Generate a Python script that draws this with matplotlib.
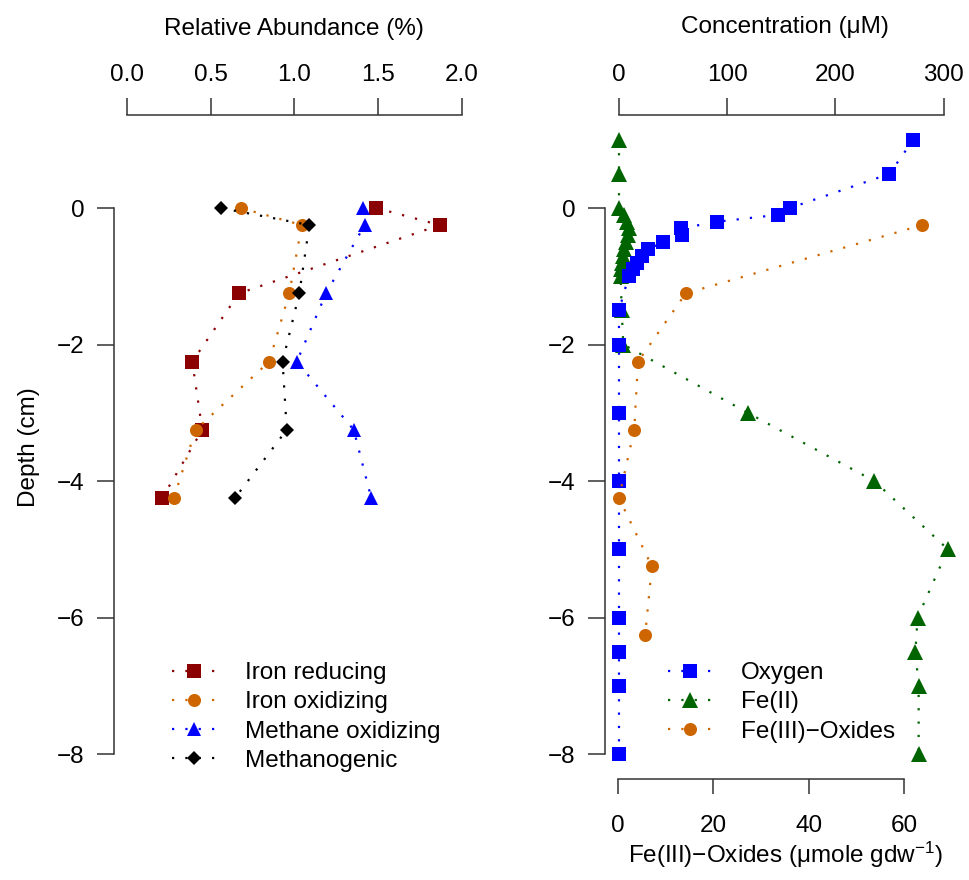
import matplotlib
matplotlib.use("Agg")
import matplotlib.pyplot as plt

plt.rcParams['font.family'] = ['Liberation Sans', 'DejaVu Sans']
plt.rcParams['mathtext.fontset'] = 'custom'
plt.rcParams['mathtext.rm'] = 'Liberation Sans'
plt.rcParams['mathtext.it'] = 'Liberation Sans:italic'
plt.rcParams['axes.unicode_minus'] = True

# ---------------- data ----------------
depth_bio = [0, -0.25, -1.25, -2.25, -3.25, -4.25]
iron_reducing = [1.49, 1.87, 0.67, 0.39, 0.45, 0.21]
iron_oxidizing = [0.68, 1.045, 0.97, 0.85, 0.41, 0.28]
methane_oxidizing = [1.41, 1.42, 1.19, 1.015, 1.355, 1.46]
methanogenic = [0.56, 1.09, 1.03, 0.93, 0.955, 0.645]

depth_o2 = [1.0, 0.5, 0.0, -0.1, -0.2, -0.3, -0.4, -0.5, -0.6, -0.7, -0.8,
            -0.9, -1.0, -1.5, -2, -3, -4, -5, -6, -6.5, -7, -8]
oxygen = [272, 250, 158, 147, 91, 57, 58, 41, 27, 21, 17,
          13, 9, 0, 0, 0, 0, 0, 0, 0, 0, 0]

depth_fe2 = [1.0, 0.5, 0.0, -0.1, -0.2, -0.3, -0.4, -0.5, -0.6, -0.7, -0.8,
             -0.9, -1.0, -1.5, -2, -3, -4, -5, -6, -6.5, -7, -8]
fe2 = [0, 0, 0, 5, 7.5, 9.5, 8.5, 6.5, 5, 4, 3,
       2, 1.5, 2.5, 4, 119, 236, 304, 276, 274, 277, 277]

depth_fe3 = [-0.25, -1.25, -2.25, -3.25, -4.25, -5.25, -6.25]
fe3_oxides = [63.7, 14.2, 4.2, 3.4, 0.2, 7.1, 5.7]

abund_ticks = [0.0, 0.5, 1.0, 1.5, 2.0]
abund_labels = ['0.0', '0.5', '1.0', '1.5', '2.0']
depth_ticks = [0, -2, -4, -6, -8]
depth_labels = ['0', '\u22122', '\u22124', '\u22126', '\u22128']
conc_ticks = [0, 100, 200, 300]
conc_labels = ['0', '100', '200', '300']
fe3_ticks = [0, 20, 40, 60]
fe3_labels = ['0', '20', '40', '60']

# ---------------- styles ----------------
W, H = 969, 880
FS = 17.5
AXC = '#333333'
DOT = (0, (1, 5))
LW = 1.6
C_RED = '#8B0000'
C_ORG = '#CD6600'
C_BLU = '#0000FF'
C_BLK = '#000000'
C_GRN = '#006400'

fig = plt.figure(figsize=(W / 100, H / 100), dpi=100)

y_top, y_bot = 115, 779
ylim = (-8.366, 1.363)

def px_axes(x0, x1):
    return [x0 / W, 1 - y_bot / H, (x1 - x0) / W, (y_bot - y_top) / H]

def style_common(ax):
    for s in ax.spines.values():
        s.set_visible(False)
    ax.tick_params(axis='both', direction='out', length=12, width=1.1,
                   color=AXC, labelsize=FS, pad=9)
    ax.patch.set_alpha(0)

def show_spine(ax, side, lo, hi):
    sp = ax.spines[side]
    sp.set_visible(True)
    sp.set_bounds(lo, hi)
    sp.set_color(AXC)
    sp.set_linewidth(1.1)

leg_kw = dict(frameon=False, fontsize=FS, handlelength=1.85,
              handletextpad=1.15, labelspacing=0.3, borderpad=0,
              borderaxespad=0, numpoints=1, loc='upper left')

# ---------------- left panel ----------------
axl = fig.add_axes(px_axes(113.6, 475))
style_common(axl)
axl.set_xlim(-0.08, 2.08)
axl.set_ylim(*ylim)
axl.xaxis.set_ticks_position('top')
axl.xaxis.set_label_position('top')
axl.set_xticks(abund_ticks)
axl.set_xticklabels(abund_labels)
axl.set_yticks(depth_ticks)
axl.set_yticklabels(depth_labels)
show_spine(axl, 'top', 0, 2)
show_spine(axl, 'left', -8, 0)
axl.set_xlabel('Relative Abundance (%)', fontsize=FS, labelpad=21)
axl.set_ylabel('Depth (cm)', fontsize=FS, labelpad=12)

l1, = axl.plot(iron_reducing, depth_bio, color=C_RED, ls=DOT, lw=LW,
               marker='s', ms=9.4, mew=0, label='Iron reducing')
l2, = axl.plot(iron_oxidizing, depth_bio, color=C_ORG, ls=DOT, lw=LW,
               marker='o', ms=9.4, mew=0, label='Iron oxidizing')
l3, = axl.plot(methane_oxidizing, depth_bio, color=C_BLU, ls=DOT, lw=LW,
               marker='^', ms=10.5, mew=0, label='Methane oxidizing')
l4, = axl.plot(methanogenic, depth_bio, color=C_BLK, ls=DOT, lw=LW,
               marker='D', ms=7.2, mew=0, label='Methanogenic')

axl.legend(handles=[l1, l2, l3, l4],
           bbox_to_anchor=(172 / W, 1 - 662 / H),
           bbox_transform=fig.transFigure, **leg_kw)

# ---------------- right panel ----------------
xr0, xr1 = 604.6, 965.6
fe_lim = (-2.8, 72.8)
conc_lim = (-13.29, 320.4)

axr = fig.add_axes(px_axes(xr0, xr1))
axf = axr.twiny()
style_common(axr)
style_common(axf)

axr.set_xlim(*conc_lim)
axr.set_ylim(*ylim)
axr.xaxis.set_ticks_position('top')
axr.xaxis.set_label_position('top')
axr.set_xticks(conc_ticks)
axr.set_xticklabels(conc_labels)
axr.set_yticks(depth_ticks)
axr.set_yticklabels(depth_labels)
show_spine(axr, 'top', 0, 300)
show_spine(axr, 'left', -8, 0)
axr.set_xlabel('Concentration (\u03bcM)', fontsize=FS, labelpad=22)

r2, = axr.plot(fe2, depth_fe2, color=C_GRN, ls=DOT, lw=LW,
               marker='^', ms=11, mew=0, label='Fe(II)')
r1, = axr.plot(oxygen, depth_o2, color=C_BLU, ls=DOT, lw=LW,
               marker='s', ms=9.4, mew=0, label='Oxygen')

axf.set_xlim(*fe_lim)
axf.set_ylim(*ylim)
axf.xaxis.set_ticks_position('bottom')
axf.xaxis.set_label_position('bottom')
axf.set_xticks(fe3_ticks)
axf.set_xticklabels(fe3_labels)
axf.tick_params(axis='x', length=11, pad=15)
axf.tick_params(axis='y', left=False, right=False, labelleft=False,
                labelright=False)
show_spine(axf, 'bottom', 0, 60)
axf.set_xlabel('Fe(III)\u2212Oxides (\u03bcmole gdw$^{-1}$)', fontsize=FS,
               labelpad=2)

r3, = axf.plot(fe3_oxides, depth_fe3, color=C_ORG, ls=DOT, lw=LW,
               marker='o', ms=9.4, mew=0, label='Fe(III)\u2212Oxides')

axf.legend(handles=[r1, r2, r3],
           bbox_to_anchor=(668 / W, 1 - 662 / H),
           bbox_transform=fig.transFigure, **leg_kw)

fig.savefig('out.png', dpi=100)
